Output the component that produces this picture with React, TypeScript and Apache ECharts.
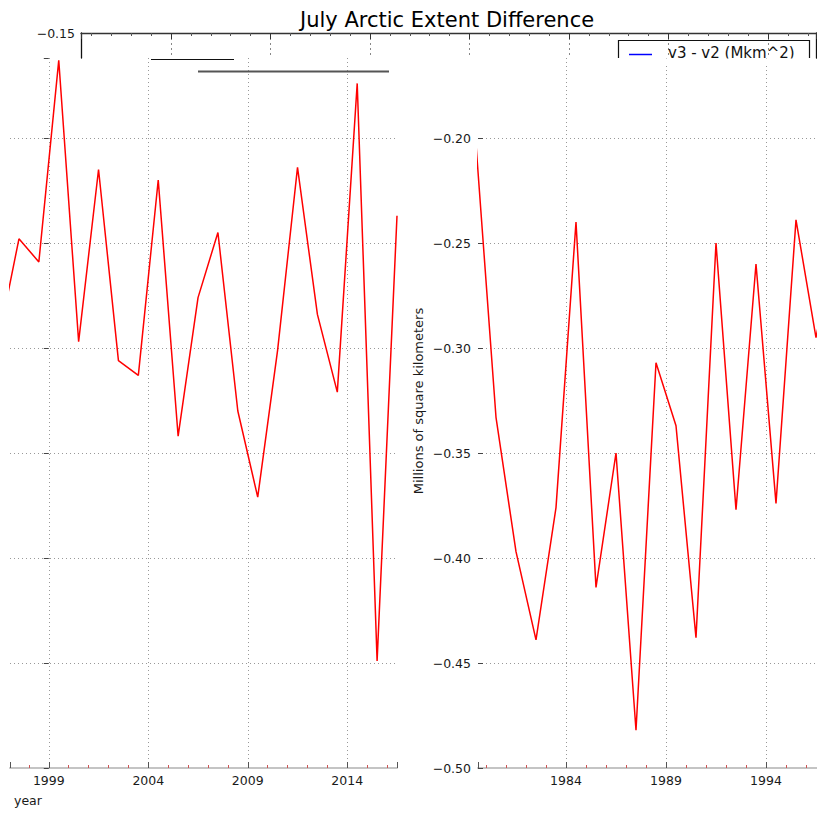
import React, { useEffect, useRef } from "react";
import * as echarts from "echarts";

// ---- data: July extent difference v3 - v2 (million km^2) ----
const years = [
  1979, 1980, 1981, 1982, 1983, 1984, 1985, 1986, 1987, 1988,
  1989, 1990, 1991, 1992, 1993, 1994, 1995, 1996, 1997, 1998,
  1999, 2000, 2001, 2002, 2003, 2004, 2005, 2006, 2007, 2008,
  2009, 2010, 2011, 2012, 2013, 2014, 2015, 2016,
];
const diffs = [
  -0.203, -0.333, -0.397, -0.439, -0.376, -0.240, -0.414, -0.350, -0.482, -0.307,
  -0.337, -0.438, -0.250, -0.377, -0.260, -0.374, -0.239, -0.295, -0.248, -0.259,
  -0.163, -0.297, -0.215, -0.306, -0.313, -0.220, -0.342, -0.276, -0.245, -0.330,
  -0.371, -0.301, -0.214, -0.284, -0.321, -0.174, -0.449, -0.237,
];
const seriesName = "v3 - v2 (Mkm^2)";
const titleText = "July Arctic Extent Difference";
const yAxisTitle = "Millions of square kilometers";
const xAxisTitle = "year";

// axis settings
const JULY = 0.5; // July value sits mid-year
const TICK_YEAR = 1999; // year ticks fall on 1984, 1989, ..., 2014
const yMin = -0.5;
const yTop = -0.15;
const yStep = 0.05;
const panelTopValue = -0.1619; // top edge of the two cut-out panels
const leftYears = [1997.05, 2016.5];
const rightYears = [1979.6, 1996.55];
const stripYears = [1959.48, 1996.41];

const FONT = "DejaVu Sans";
const TXT = "#1a1a1a";
const GRID = "#999";

const fmtY = (v: number) => (v < 0 ? "\u2212" : "") + Math.abs(v).toFixed(2);
const fmtX = (v: number) => String(Math.round(v + TICK_YEAR));

export default function App() {
  const ref = useRef<HTMLDivElement>(null);
  useEffect(() => {
    document.body.style.margin = "0";
    const chart = echarts.init(ref.current!, null, { renderer: "svg" });
    const points = years.map((y, i) => [y + JULY - TICK_YEAR, diffs[i]]);

    const yearAxis = (grid: number, range: number[], extra: any = {}) => ({
      gridIndex: grid,
      type: "value",
      min: range[0] - TICK_YEAR,
      max: range[1] - TICK_YEAR,
      minInterval: 5,
      maxInterval: 5,
      splitNumber: 4,
      axisLine: { show: true, lineStyle: { color: "#c4c4c4", width: 2 } },
      axisTick: { show: true, inside: true, length: 6, lineStyle: { color: "#555" } },
      minorTick: { show: true, splitNumber: 5, length: 3, lineStyle: { color: "#c55" } },
      axisLabel: {
        formatter: fmtX,
        showMinLabel: false,
        showMaxLabel: false,
        color: TXT,
        fontSize: 12.5,
        fontFamily: FONT,
        margin: 6,
      },
      splitLine: {
        show: true,
        showMinLine: false,
        showMaxLine: false,
        lineStyle: { type: [1, 3], color: GRID, width: 1 },
      },
      ...extra,
    });

    const valueAxis = (grid: number, position: string, labels: boolean) => ({
      gridIndex: grid,
      type: "value",
      position,
      min: yMin,
      max: panelTopValue,
      interval: yStep,
      axisLine: { show: false },
      axisTick: { show: true, inside: true, length: 5, lineStyle: { color: "#444" } },
      axisLabel: {
        show: labels,
        formatter: fmtY,
        showMinLabel: true,
        showMaxLabel: false,
        color: TXT,
        fontSize: 12.5,
        fontFamily: FONT,
        margin: 7,
      },
      splitLine: {
        show: true,
        showMinLine: false,
        showMaxLine: false,
        lineStyle: { type: [1, 3], color: GRID, width: 1 },
      },
    });

    const option: any = {
      animation: false,
      textStyle: { fontFamily: FONT },
      title: {
        text: titleText,
        left: 300,
        top: 9,
        padding: 0,
        textStyle: { fontSize: 21, fontWeight: "normal", color: "#000", fontFamily: FONT },
      },
      grid: [
        { left: 10, top: 58, width: 387, height: 710 },
        { left: 478, top: 58, width: 339, height: 710 },
        { left: 81, top: 33, width: 735, height: 25 },
      ],
      xAxis: [
        yearAxis(0, leftYears, {
          name: xAxisTitle,
          nameLocation: "start",
          nameGap: 0,
          nameTextStyle: {
            align: "left",
            verticalAlign: "top",
            padding: [26, 0, 0, 4],
            color: TXT,
            fontSize: 12.5,
            fontFamily: FONT,
          },
        }),
        yearAxis(1, rightYears),
        {
          gridIndex: 2,
          type: "value",
          position: "top",
          min: stripYears[0] - TICK_YEAR,
          max: stripYears[1] - TICK_YEAR,
          minInterval: 5,
          maxInterval: 5,
          splitNumber: 7,
          axisLine: { show: true, lineStyle: { color: "#333", width: 1.3 } },
          axisTick: { show: true, inside: true, length: 6, lineStyle: { color: "#333" } },
          minorTick: { show: true, splitNumber: 5, length: 3, lineStyle: { color: "#555" } },
          axisLabel: { show: false },
          splitLine: {
            show: true,
            showMinLine: false,
            showMaxLine: false,
            lineStyle: { type: [2, 3], color: "#888", width: 1 },
          },
        },
      ],
      yAxis: [
        valueAxis(0, "right", false),
        valueAxis(1, "left", true),
        {
          gridIndex: 2,
          type: "value",
          position: "left",
          min: panelTopValue,
          max: yTop,
          interval: 1,
          axisLine: { show: true, lineStyle: { color: "#111", width: 1.3 } },
          axisTick: { show: false },
          axisLabel: {
            formatter: fmtY,
            showMinLabel: false,
            showMaxLabel: true,
            color: TXT,
            fontSize: 12.5,
            fontFamily: FONT,
            margin: 6,
          },
          splitLine: { show: false },
        },
        {
          gridIndex: 2,
          type: "value",
          position: "right",
          min: panelTopValue,
          max: yTop,
          interval: 1,
          axisLine: { show: true, lineStyle: { color: "#111", width: 1.3 } },
          axisTick: { show: false },
          axisLabel: { show: false },
          splitLine: { show: false },
        },
      ],
      series: [0, 1].map((g) => ({
        type: "line",
        name: seriesName,
        xAxisIndex: g,
        yAxisIndex: g,
        data: points,
        symbol: "none",
        showSymbol: false,
        clip: true,
        silent: true,
        lineStyle: { color: "#ff0000", width: 1.5 },
      })),
      graphic: [
        {
          type: "text",
          x: 418,
          y: 401,
          rotation: Math.PI / 2,
          style: {
            text: yAxisTitle,
            font: `13px "${FONT}"`,
            fill: TXT,
            align: "center",
            verticalAlign: "middle",
            textAlign: "center",
            textVerticalAlign: "middle",
          },
        },
        // legend fragment (cut off at the panel edge)
        {
          type: "polyline",
          z: 50,
          shape: { points: [[618.5, 58], [618.5, 40.5], [809.5, 40.5], [809.5, 58]] },
          style: { stroke: "#111", lineWidth: 1.2, fill: null },
        },
        {
          type: "line",
          z: 50,
          shape: { x1: 629, y1: 54.5, x2: 652, y2: 54.5 },
          style: { stroke: "#0000ff", lineWidth: 1.5 },
        },
        {
          type: "text",
          z: 50,
          x: 668,
          y: 52.5,
          style: {
            text: seriesName,
            font: `15px "${FONT}"`,
            fill: "#111",
            align: "left",
            verticalAlign: "middle",
            textAlign: "left",
            textVerticalAlign: "middle",
          },
        },
        {
          type: "rect",
          z: 100,
          shape: { x: 660, y: 58.6, width: 148, height: 7 },
          style: { fill: "#fff" },
        },
        // stray fragments of the torn image
        {
          type: "line",
          z: 50,
          shape: { x1: 151, y1: 59.5, x2: 234, y2: 59.5 },
          style: { stroke: "#111", lineWidth: 1.2 },
        },
        {
          type: "line",
          z: 50,
          shape: { x1: 198, y1: 71.5, x2: 389, y2: 71.5 },
          style: { stroke: "#555", lineWidth: 2 },
        },
      ],
    };
    chart.setOption(option);
    return () => chart.dispose();
  }, []);
  return (
    <div
      ref={ref}
      style={{ position: "absolute", left: 0, top: 0, width: 817, height: 813, background: "#fff" }}
    />
  );
}
